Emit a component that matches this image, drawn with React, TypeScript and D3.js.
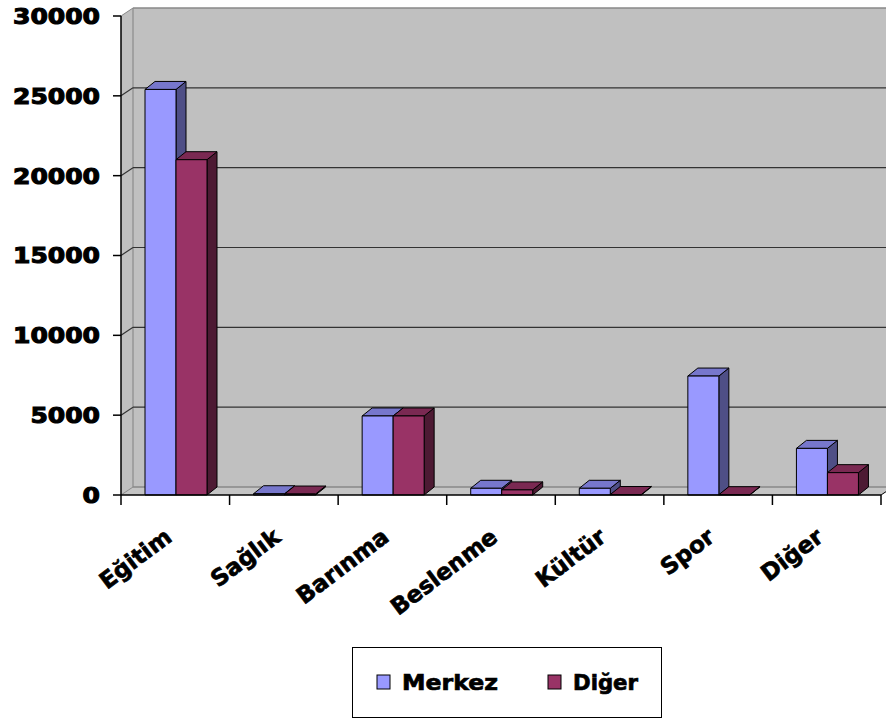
import React from "react";
import * as d3 from "d3";

const categories = ["Eğitim", "Sağlık", "Barınma", "Beslenme", "Kültür", "Spor", "Diğer"];
const seriesNames = ["Merkez", "Diğer"];
const merkez = [25400, 80, 4950, 420, 420, 7450, 2920];
const diger = [21000, 60, 4950, 320, 30, 20, 1400];
const yTicks = [0, 5000, 10000, 15000, 20000, 25000, 30000];

const front = ["#9999FF", "#993366"];
const topC = ["#7777CC", "#7A2952"];
const sideC = ["#4F4F86", "#4D1A33"];

const W = 886, H = 719;
const X0 = 121, X1 = 881, Y0 = 495, YT = 16;
const WDX = 12, WDY = -8;
const BDX = 10, BDY = -8;
const FONT = "'DejaVu Sans', Verdana, sans-serif";

export default function App() {
  const y = d3.scaleLinear().domain([0, 30000]).range([Y0, YT]);
  const x = d3.scaleBand<string>().domain(categories).range([X0, X1]).padding(0);
  const xi = d3.scaleBand<string>().domain(seriesNames).range([24, 86]).padding(0);
  const values = [merkez, diger];
  const bw = xi.bandwidth();

  return (
    <svg width={W} height={H} style={{ position: "absolute", left: 0, top: 0, background: "#fff" }}>
      {/* back wall */}
      <rect x={X0 + WDX} y={YT + WDY} width={W - X0} height={Y0 - YT} fill="#C0C0C0" />
      {/* side wall */}
      <polygon points={`${X0},${YT} ${X0 + WDX},${YT + WDY} ${X0 + WDX},${Y0 + WDY} ${X0},${Y0}`} fill="#C0C0C0" />
      {/* floor */}
      <polygon points={`${X0},${Y0} ${X0 + WDX},${Y0 + WDY} ${X1 + WDX},${Y0 + WDY} ${X1},${Y0}`} fill="#C4C4C4" />
      <line x1={X0 + WDX} x2={X0 + WDX} y1={YT + WDY} y2={Y0 + WDY} stroke="#808080" />
      <line x1={X0 + WDX} x2={W} y1={YT + WDY} y2={YT + WDY} stroke="#888" strokeWidth={1.5} />
      <line x1={X0 + WDX} x2={W} y1={Y0 + WDY} y2={Y0 + WDY} stroke="#888" strokeWidth={1.5} />
      <line x1={X0} y1={YT} x2={X0 + WDX} y2={YT + WDY} stroke="#888" />
      <line x1={X0} y1={Y0} x2={X0 + WDX} y2={Y0 + WDY} stroke="#888" />
      {/* gridlines */}
      {yTicks.filter(t => t > 0 && t < 30000).map(t => (
        <g key={t}>
          <line x1={X0 + WDX} x2={W} y1={y(t) + WDY} y2={y(t) + WDY} stroke="#333" strokeWidth={1.2} />
          <line x1={X0} y1={y(t)} x2={X0 + WDX} y2={y(t) + WDY} stroke="#333" strokeWidth={1.2} />
        </g>
      ))}
      {/* bars */}
      {categories.map((c, i) => (
        <g key={c}>
          {seriesNames.map((s, j) => {
            const v = values[j][i];
            const bx = (x(c) as number) + (xi(s) as number);
            const ty = y(v);
            return (
              <g key={s} stroke="#000" strokeWidth={1} strokeLinejoin="round">
                <polygon points={`${bx + bw},${ty} ${bx + bw + BDX},${ty + BDY} ${bx + bw + BDX},${Y0 + BDY} ${bx + bw},${Y0}`} fill={sideC[j]} />
                <polygon points={`${bx},${ty} ${bx + BDX},${ty + BDY} ${bx + bw + BDX},${ty + BDY} ${bx + bw},${ty}`} fill={topC[j]} />
                <rect x={bx} y={ty} width={bw} height={Y0 - ty} fill={front[j]} />
              </g>
            );
          })}
        </g>
      ))}
      {/* axes */}
      <line x1={X0} x2={X0} y1={YT} y2={Y0 + 10} stroke="#000" strokeWidth={1.5} />
      <line x1={X0} x2={X1} y1={Y0} y2={Y0} stroke="#000" strokeWidth={1.5} />
      <line x1={X1} y1={Y0} x2={X1 + WDX} y2={Y0 + WDY} stroke="#000" />
      {yTicks.map(t => (
        <g key={t}>
          <line x1={X0 - 8} x2={X0} y1={y(t)} y2={y(t)} stroke="#000" strokeWidth={1.5} />
          <text x={100} y={y(t)} dy="0.36em" textAnchor="end" fontFamily={FONT} fontWeight="bold" fontSize={22}
            textLength={17.4 * String(t).length} lengthAdjust="spacingAndGlyphs"
            stroke="#000" strokeWidth={1.1}>{t}</text>
        </g>
      ))}
      {categories.map((c, i) => (
        <line key={"t" + i} x1={(x(c) as number) + x.step()} x2={(x(c) as number) + x.step()} y1={Y0} y2={Y0 + 10} stroke="#000" strokeWidth={1.5} />
      ))}
      {categories.map(c => {
        const cx = (x(c) as number) + x.bandwidth() / 2;
        return (
          <text key={"l" + c} transform={`translate(${cx - 2},${540}) rotate(-37)`} textAnchor="end" fontFamily={FONT}
            fontWeight="bold" fontSize={23} stroke="#000" strokeWidth={0.7}>{c}</text>
        );
      })}
      {/* legend */}
      <rect x={352.5} y={647.5} width={309} height={70} fill="#fff" stroke="#000" strokeWidth={1} />
      {seriesNames.map((s, j) => {
        const lx = j === 0 ? 377 : 548;
        const tl = j === 0 ? 96 : 65;
        return (
          <g key={s}>
            <rect x={lx} y={675} width={13} height={14} fill={front[j]} stroke="#000" strokeWidth={1} />
            <text x={lx + 25} y={690} fontFamily={FONT} fontWeight="bold" fontSize={22} textLength={tl}
              lengthAdjust="spacingAndGlyphs" stroke="#000" strokeWidth={0.7}>{s}</text>
          </g>
        );
      })}
    </svg>
  );
}
